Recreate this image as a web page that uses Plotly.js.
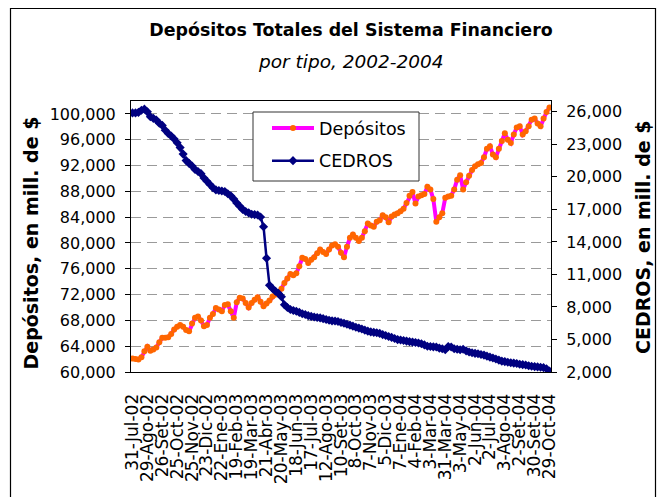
<!DOCTYPE html>
<html>
<head>
<meta charset="utf-8">
<script src="https://cdn.plot.ly/plotly-3.0.1.min.js"></script>
<style>
  html, body { margin: 0; padding: 0; background: #fff; }
  #chart { width: 658px; height: 497px; }
</style>
</head>
<body>
<div id="chart"></div>
<script>
// Category tick labels (one every 5 sampled points)
const tickLabels = ['31-Jul-02','29-Ago-02','26-Set-02','25-Oct-02','25-Nov-02','23-Dic-02',
  '22-Ene-03','19-Feb-03','19-Mar-03','21-Abr-03','20-May-03','18-Jun-03','17-Jul-03',
  '12-Ago-03','10-Set-03','8-Oct-03','7-Nov-03','5-Dic-03','7-Ene-04','4-Feb-04','3-Mar-04',
  '31-Mar-04','3-May-04','2-Jun-04','2-Jul-04','3-Ago-04','2-Set-04','30-Set-04','29-Oct-04'];

// Depósitos (left axis, mill. de $)
const depositos = [
  62100,62000,61950,62300,63200, 63900,63300,63500,63800,64600,
  65300,65300,65400,65900,66600, 67000,67300,67000,66500,66300,
  67500,68400,68600,68000,67100, 67300,68400,69000,69900,69700,
  69400,70400,70500,69400,68400, 70800,71500,71400,70700,70000,
  70700,71200,71600,70900,70200, 70600,71100,71700,72000,72300,
  72900,73800,74500,75200,75000, 75300,76400,77700,77500,76900,
  77400,77800,78400,79000,78600, 78300,79000,79600,79800,79400,
  78500,77800,79400,80800,81300, 80800,80300,80800,81800,83000,
  82700,82500,83300,83500,84300, 84000,83200,84100,84400,84600,
  84900,85300,86200,87300,87900, 86100,87200,87400,87600,88700,
  88300,86800,83300,84000,84600, 87000,87200,87300,88300,89800,
  90500,88300,89400,90400,91300, 91900,92200,92400,93300,94600,
  95000,93700,93300,94600,95800, 97000,96000,95500,96800,97900,
  98100,96800,97300,98100,99100, 99300,98500,98100,99300,100300,
  101000
];

// CEDROS (right axis, mill. de $)
const cedros = [
  25900,25900,25950,26150,26250, 26000,25550,25400,25250,24950,
  24750,24300,24000,23770,23500, 23150,22700,22100,21500,21250,
  21000,20680,20500,20300,19900, 19600,19300,19000,18800,18750,
  18700,18650,18450,18250,17950, 17600,17300,17000,16800,16680,
  16550,16520,16480,16300,15400, 12500,10000,9700,9450,9250,
  8950,8200,7950,7760,7680, 7600,7500,7380,7300,7200,
  7130,7080,7030,6990,6920, 6850,6780,6720,6700,6660,
  6560,6500,6400,6320,6230, 6130,6050,5960,5860,5770,
  5700,5660,5620,5560,5450, 5370,5280,5190,5090,4990,
  4950,4900,4850,4800,4760, 4720,4680,4600,4500,4380,
  4350,4320,4300,4200,4150, 4050,4350,4300,4150,4100,
  4050,4100,3950,3850,3780, 3720,3680,3620,3560,3460,
  3370,3290,3200,3100,3000, 2960,2900,2850,2820,2780,
  2720,2680,2640,2580,2530, 2500,2470,2440,2400,2300,
  2080
];

const leftTicks = [60000,64000,68000,72000,76000,80000,84000,88000,92000,96000,100000];
const labelStep = 5;

// ---- build ----
const idx = depositos.map((_, i) => i);
const tickPos = tickLabels.map((_, j) => j * labelStep);

const FONT = 'DejaVu Sans';
// plot area in pixels
const L = 131, R = 551, T = 101, B = 372, W = 658, H = 497;
const px = x => (x - L) / (R - L);
const py = y => (B - y) / (B - T);

const traces = [
  {
    x: idx, y: depositos, name: 'Depósitos', type: 'scatter', mode: 'lines+markers',
    line: {color: '#FF00FF', width: 4},
    marker: {color: '#FF6600', size: 6, symbol: 'circle'},
    yaxis: 'y', legendgroup: 'a'
  },
  {
    x: idx, y: cedros, name: 'CEDROS', type: 'scatter', mode: 'lines+markers',
    line: {color: '#000080', width: 2.5},
    marker: {color: '#000080', size: 7, symbol: 'diamond'},
    yaxis: 'y2', legendgroup: 'b'
  }
];

const layout = {
  width: W, height: H,
  margin: {l: L, r: W - R, t: T, b: H - B, pad: 0},
  paper_bgcolor: '#fff', plot_bgcolor: '#fff',
  showlegend: true,
  hovermode: false,
  title: {
    text: 'Depósitos Totales del Sistema Financiero',
    font: {family: FONT, size: 17.4, weight: 'bold', color: '#000'},
    x: px(351), xref: 'paper', xanchor: 'center',
    y: 1 - 30 / H, yref: 'container', yanchor: 'middle'
  },
  xaxis: {
    type: 'linear', range: [-0.5, depositos.length - 0.5],
    tickmode: 'array', tickvals: tickPos, ticktext: tickLabels,
    tickangle: -90, ticks: '', ticklabelstandoff: 14,
    tickfont: {family: FONT, size: 17, color: '#000'},
    showline: true, mirror: true, linecolor: '#000', linewidth: 1,
    showgrid: false, zeroline: false, fixedrange: true
  },
  yaxis: {
    range: [60000, 102000],
    tickmode: 'array', tickvals: leftTicks, tickformat: ',d',
    ticks: 'outside', ticklen: 5, tickcolor: '#000', tickwidth: 1,
    ticklabelstandoff: 6,
    tickfont: {family: FONT, size: 16, color: '#000'},
    showline: true, linecolor: '#000', linewidth: 1,
    showgrid: true, gridcolor: '#9a9a9a', gridwidth: 1, griddash: '10px,6px',
    zeroline: false, fixedrange: true
  },
  yaxis2: {
    overlaying: 'y', side: 'right',
    range: [2000, 27000], tick0: 2000, dtick: 3000, tickformat: ',d',
    ticks: 'outside', ticklen: 5, tickcolor: '#000', tickwidth: 1,
    ticklabelstandoff: 6,
    tickfont: {family: FONT, size: 16, color: '#000'},
    showline: true, linecolor: '#000', linewidth: 1,
    showgrid: false, zeroline: false, fixedrange: true
  },
  legend: {
    x: px(267), y: py(110), xanchor: 'left', yanchor: 'top',
    xref: 'paper', yref: 'paper',
    bgcolor: 'rgba(0,0,0,0)', borderwidth: 0,
    font: {family: FONT, size: 17.5, color: '#000'},
    itemwidth: 42, traceorder: 'grouped', tracegroupgap: 7
  },
  shapes: [
    {type: 'rect', xref: 'paper', yref: 'paper', layer: 'above',
     x0: px(253), x1: px(419), y0: py(181), y1: py(112),
     line: {color: '#333', width: 1}, fillcolor: '#fff'},
    {type: 'rect', xref: 'paper', yref: 'paper', layer: 'below',
     x0: px(10.5), x1: px(655.5), y0: py(510), y1: py(8.5),
     line: {color: '#000', width: 1.2}, fillcolor: 'rgba(0,0,0,0)'}
  ],
  annotations: [
    {text: 'por tipo, 2002-2004', xref: 'paper', yref: 'paper',
     x: px(351), y: py(61), xanchor: 'center', yanchor: 'middle', showarrow: false,
     font: {family: FONT, size: 18.5, style: 'italic', color: '#000'}},
    {text: 'Depósitos, en mill. de $', xref: 'paper', yref: 'paper',
     x: px(30), y: py(243.5), xanchor: 'center', yanchor: 'middle', showarrow: false,
     textangle: -90, font: {family: FONT, size: 19, weight: 'bold', color: '#000'}},
    {text: 'CEDROS, en mill. de $', xref: 'paper', yref: 'paper',
     x: px(642.5), y: py(237.5), xanchor: 'center', yanchor: 'middle', showarrow: false,
     textangle: -90, font: {family: FONT, size: 19, weight: 'bold', color: '#000'}}
  ]
};

Plotly.newPlot('chart', traces, layout, {displayModeBar: false, staticPlot: true});
</script>
</body>
</html>
